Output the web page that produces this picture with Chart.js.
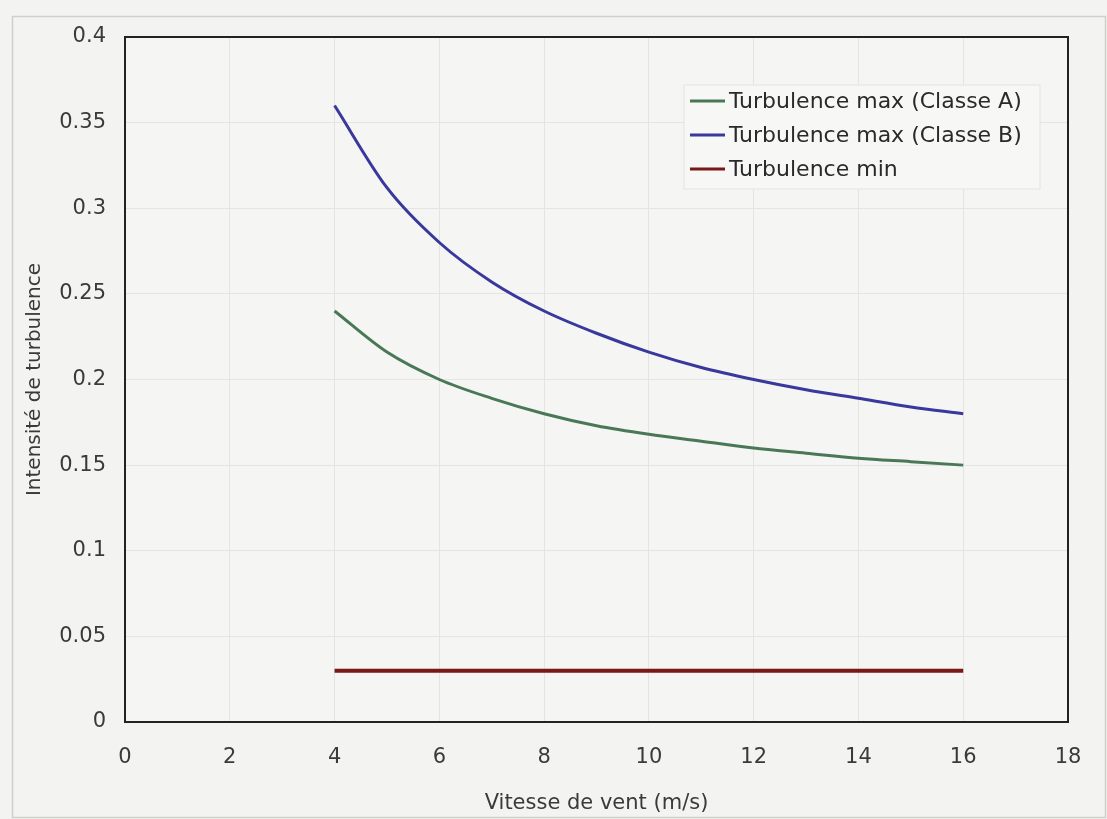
<!DOCTYPE html>
<html>
<head>
<meta charset="utf-8">
<script src="https://cdn.jsdelivr.net/npm/chart.js@4/dist/chart.umd.min.js"></script>
<style>
  html,body{margin:0;padding:0;background:#f4f4f2;}
  #wrap{width:1107px;height:819px;position:relative;}
</style>
</head>
<body>
<div id="wrap"><canvas id="c" width="1107" height="819"></canvas></div>
<script>
// Wind speed (m/s)
const windSpeed = [4, 5, 6, 7, 8, 9, 10, 11, 12, 13, 14, 15, 16];
// Turbulence max (Classe A)
const classeA = [0.240, 0.216, 0.200, 0.189, 0.180, 0.173, 0.168, 0.164, 0.160, 0.157, 0.154, 0.152, 0.150];
// Turbulence max (Classe B)
const classeB = [0.360, 0.312, 0.280, 0.257, 0.240, 0.227, 0.216, 0.207, 0.200, 0.194, 0.189, 0.184, 0.180];
// Turbulence min
const turbMin = [0.030, 0.030, 0.030, 0.030, 0.030, 0.030, 0.030, 0.030, 0.030, 0.030, 0.030, 0.030, 0.030];

const seriesLabels = ["Turbulence max (Classe A)", "Turbulence max (Classe B)", "Turbulence min"];
const xTicks = [0, 2, 4, 6, 8, 10, 12, 14, 16, 18];
const yTicks = [0, 0.05, 0.1, 0.15, 0.2, 0.25, 0.3, 0.35, 0.4];
const xTitle = "Vitesse de vent (m/s)";
const yTitle = "Intensité de turbulence";

const FONT = '"DejaVu Sans", "Liberation Sans", Arial, sans-serif';
const toPts = arr => windSpeed.map((x, i) => ({x: x, y: arr[i]}));

const bgPlugin = {
  id: 'bg',
  beforeDraw(chart) {
    const ctx = chart.ctx;
    ctx.save();
    ctx.fillStyle = '#f3f3f1';
    ctx.fillRect(0, 0, chart.width, chart.height);
    ctx.strokeStyle = '#cfcfcc';
    ctx.lineWidth = 1.5;
    ctx.strokeRect(12.5, 16.5, chart.width - 14, chart.height - 18);
    const a = chart.chartArea;
    ctx.fillStyle = '#f5f5f3';
    ctx.fillRect(a.left, a.top, a.right - a.left, a.bottom - a.top);
    ctx.restore();
  },
  afterDraw(chart) {
    const ctx = chart.ctx;
    const a = chart.chartArea;
    ctx.save();
    ctx.strokeStyle = '#222';
    ctx.lineWidth = 2;
    ctx.strokeRect(a.left, a.top, a.right - a.left, a.bottom - a.top);
    // legend inside plot area
    const lx = a.left + 565, ly = a.top + 64, rowH = 34;
    ctx.fillStyle = '#f7f7f5';
    ctx.strokeStyle = '#e3e3e0';
    ctx.lineWidth = 1;
    ctx.fillRect(lx - 6, ly - 16, 356, 104);
    ctx.strokeRect(lx - 6, ly - 16, 356, 104);
    ctx.font = '22px ' + FONT;
    ctx.textBaseline = 'middle';
    chart.data.datasets.forEach((ds, i) => {
      const y = ly + i * rowH;
      ctx.strokeStyle = ds.borderColor;
      ctx.lineWidth = 3;
      ctx.beginPath();
      ctx.moveTo(lx, y);
      ctx.lineTo(lx + 35, y);
      ctx.stroke();
      ctx.fillStyle = '#2a2a2a';
      ctx.fillText(ds.label, lx + 39, y + 1);
    });
    ctx.restore();
  }
};

new Chart(document.getElementById('c'), {
  type: 'line',
  data: {
    datasets: [
      {label: seriesLabels[0], data: toPts(classeA), borderColor: '#4a7856', borderWidth: 3, pointRadius: 0, tension: 0.4, cubicInterpolationMode: 'monotone', fill: false},
      {label: seriesLabels[1], data: toPts(classeB), borderColor: '#39389c', borderWidth: 3, pointRadius: 0, tension: 0.4, cubicInterpolationMode: 'monotone', fill: false},
      {label: seriesLabels[2], data: toPts(turbMin), borderColor: '#7a1717', borderWidth: 4, pointRadius: 0, tension: 0, fill: false}
    ]
  },
  options: {
    responsive: false,
    animation: false,
    layout: {padding: {left: 0, top: 37, right: 39, bottom: 0}},
    plugins: {legend: {display: false}, tooltip: {enabled: false}},
    scales: {
      x: {
        type: 'linear', min: 0, max: 18,
        afterBuildTicks: s => { s.ticks = xTicks.map(v => ({value: v})); },
        afterFit: s => { s.height = 97; },
        grid: {color: '#e4e4e1', lineWidth: 1, drawTicks: false},
        border: {display: false},
        ticks: {padding: 23, color: '#3a3a3a', font: {family: FONT, size: 21}, maxRotation: 0},
        title: {display: true, text: xTitle, color: '#3a3a3a', font: {family: FONT, size: 21}, padding: {top: 0, bottom: 3}}
      },
      y: {
        type: 'linear', min: 0, max: 0.4,
        afterBuildTicks: s => { s.ticks = yTicks.map(v => ({value: v})); },
        afterFit: s => { s.width = 125; },
        grid: {color: '#e4e4e1', lineWidth: 1, drawTicks: false},
        border: {display: false},
        ticks: {padding: 19, color: '#3a3a3a', font: {family: FONT, size: 21},
          callback: v => String(Math.round(v * 100) / 100)},
        title: {display: true, text: yTitle, color: '#3a3a3a', font: {family: FONT, size: 20}, padding: {top: 23, bottom: 0}}
      }
    }
  },
  plugins: [bgPlugin]
});
</script>
</body>
</html>
